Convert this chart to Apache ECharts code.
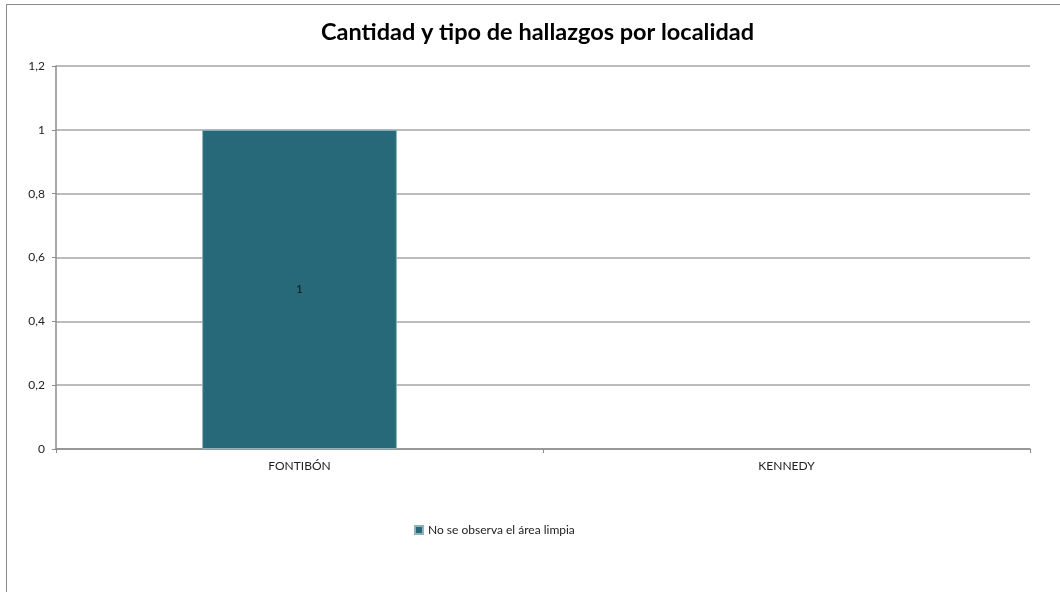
<!DOCTYPE html>
<html><head><meta charset="utf-8">
<script src="https://cdn.jsdelivr.net/npm/echarts@6/dist/echarts.min.js"></script>
<style>
html,body{margin:0;padding:0;background:#fff;overflow:hidden;}
#frame{position:absolute;left:6px;top:4px;width:1200px;height:800px;border:1px solid #8c8c8c;box-sizing:border-box;}
#c{position:absolute;left:0;top:0;width:1060px;height:592px;}
</style></head>
<body>
<div id="frame"></div>
<div id="c"></div>
<script>
const title = 'Cantidad y tipo de hallazgos por localidad';
const categories = ['FONTIBÓN', 'KENNEDY'];
const seriesName = 'No se observa el área limpia';
const values = [1, null];
const yTicks = [0, 0.2, 0.4, 0.6, 0.8, 1, 1.2];

const chart = echarts.init(document.getElementById('c'), null, {renderer: 'canvas'});
chart.setOption({
  animation: false,
  backgroundColor: 'transparent',
  title: {
    text: title, left: 316, top: 15,
    textStyle: {fontFamily: 'Lato', fontWeight: 'bold', fontSize: 23.5, color: '#000'}
  },
  legend: {
    data: [seriesName], top: 519, left: 409,
    itemWidth: 8, itemHeight: 8, itemGap: 6,
    icon: 'rect',
    textStyle: {fontFamily: 'Lato', fontSize: 12, color: '#222'}
  },
  grid: {left: 56, right: 30, top: 66, bottom: 143, containLabel: false},
  xAxis: {
    type: 'category', data: categories,
    axisLine: {lineStyle: {color: '#8c8c8c', width: 1.5}},
    axisTick: {show: true, alignWithLabel: false, length: 4, lineStyle: {color: '#8c8c8c'}},
    axisLabel: {fontFamily: 'Lato', fontSize: 12, color: '#222', margin: 11}
  },
  yAxis: {
    type: 'value', min: 0, max: 1.2, interval: 0.2,
    axisLine: {show: true, lineStyle: {color: '#8c8c8c', width: 1.5}},
    axisTick: {show: true, length: 4, lineStyle: {color: '#8c8c8c'}},
    splitLine: {lineStyle: {color: '#a6a6a6', width: 1.5}},
    axisLabel: {
      fontFamily: 'Lato', fontSize: 12, color: '#222', margin: 11,
      formatter: v => {
        const t = yTicks.find(x => Math.abs(x - v) < 1e-9);
        return (t === undefined ? v : t).toString().replace('.', ',');
      }
    }
  },
  series: [{
    name: seriesName, type: 'bar', data: values,
    barWidth: '40%',
    itemStyle: {color: '#276979', borderColor: '#8fb3bd', borderWidth: 1},
    label: {show: true, position: 'inside', fontFamily: 'Lato', fontSize: 11, color: '#111'}
  }]
});
</script>
</body></html>
